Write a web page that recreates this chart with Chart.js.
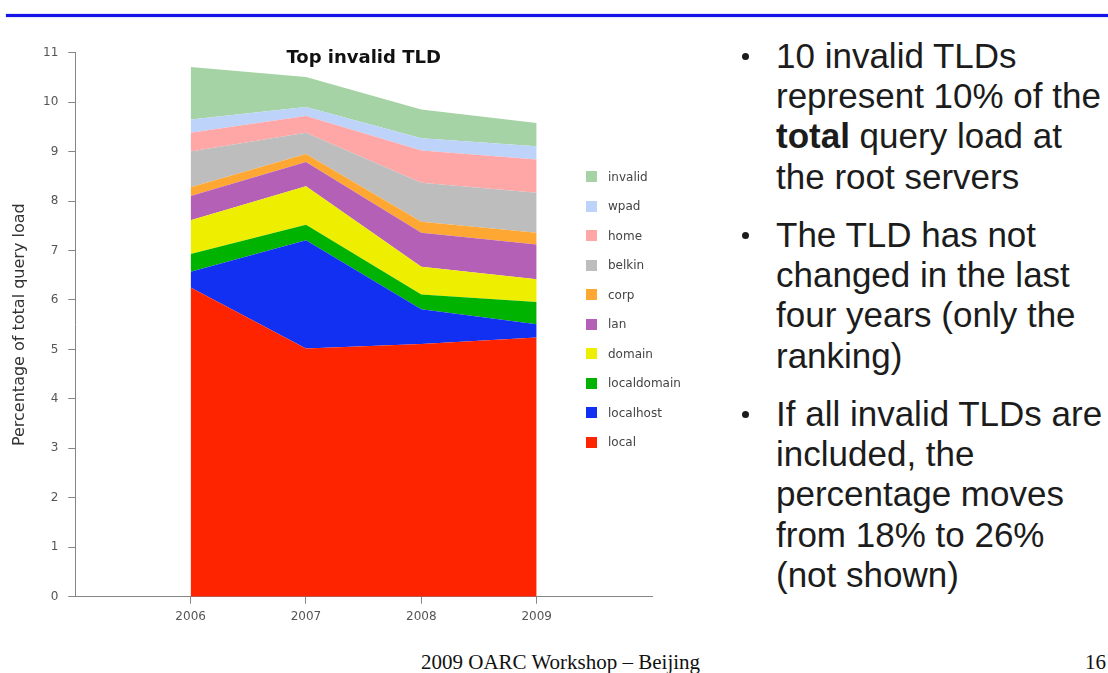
<!DOCTYPE html>
<html>
<head>
<meta charset="utf-8">
<title>Top invalid TLD</title>
<script src="https://cdn.jsdelivr.net/npm/chart.js@4.4.1/dist/chart.umd.min.js"></script>
<style>
  html,body{margin:0;padding:0;background:#fff;}
  body{width:1108px;height:673px;position:relative;overflow:hidden;}
  .rule{position:absolute;left:6px;right:0;top:14px;height:3px;background:#1414e6;box-shadow:0 0 1.5px #7a7aff;}
  #wrap{position:absolute;left:0;top:0;width:700px;height:640px;}
  #legend{position:absolute;left:586px;top:0;font:12px "DejaVu Sans",sans-serif;color:#444;}
  #legend .item{position:absolute;left:0;height:14px;line-height:14px;white-space:nowrap;}
  #legend .sw{position:absolute;left:0;top:1.5px;width:11px;height:11px;}
  #legend .lb{position:absolute;left:22px;top:0;}
  .bullet{position:absolute;left:776px;font:35px "Liberation Sans",Arial,sans-serif;line-height:40.3px;color:#1c1c1c;white-space:nowrap;}
  .dot{position:absolute;left:741.5px;width:7px;height:7px;border-radius:50%;background:#1c1c1c;}
  .foot{position:absolute;top:652px;font:21px "Liberation Serif","Times New Roman",serif;line-height:21px;color:#111;white-space:nowrap;}
</style>
</head>
<body>
<div class="rule"></div>
<div id="wrap"><canvas id="chartTld" width="700" height="640"></canvas></div>
<div id="legend"></div>

<div class="dot" style="top:52.5px"></div>
<div class="bullet" style="top:35.7px">10 invalid TLDs<br>represent 10% of the<br><b>total</b> query load at<br>the root servers</div>
<div class="dot" style="top:231.5px"></div>
<div class="bullet" style="top:214.7px">The TLD has not<br>changed in the last<br>four years (only the<br>ranking)</div>
<div class="dot" style="top:410.5px"></div>
<div class="bullet" style="top:393.7px">If all invalid TLDs are<br>included, the<br>percentage moves<br>from 18% to 26%<br>(not shown)</div>

<div class="foot" style="left:421px">2009 OARC Workshop – Beijing</div>
<div class="foot" style="right:2px">16</div>

<script>
const chartTitle = 'Top invalid TLD';
const yTitle = 'Percentage of total query load';
const years = [2006, 2007, 2008, 2009];
const xTicks = [2006, 2007, 2008, 2009];
const yTicks = [0, 1, 2, 3, 4, 5, 6, 7, 8, 9, 10, 11];

// stacked bottom -> top, % of total query load
const seriesNames = ['local', 'localhost', 'localdomain', 'domain', 'lan', 'corp', 'belkin', 'home', 'wpad', 'invalid'];
const local       = [6.25, 5.02, 5.11, 5.24];
const localhost   = [0.32, 2.19, 0.70, 0.27];
const localdomain = [0.36, 0.31, 0.30, 0.45];
const domain      = [0.68, 0.78, 0.56, 0.46];
const lan         = [0.49, 0.49, 0.69, 0.70];
const corp        = [0.18, 0.16, 0.22, 0.24];
const belkin      = [0.72, 0.43, 0.79, 0.81];
const home        = [0.38, 0.34, 0.65, 0.67];
const wpad        = [0.27, 0.18, 0.25, 0.27];
const invalid     = [1.06, 0.61, 0.58, 0.47];
const seriesValues = [local, localhost, localdomain, domain, lan, corp, belkin, home, wpad, invalid];
const seriesColors = ['#ff2400', '#1230f2', '#00b300', '#eeee00', '#b460b6', '#ffa733', '#bdbdbd', '#ffa6a6', '#bdd3fa', '#a6d3a5'];

const datasets = seriesNames.map((name, i) => ({
  label: name,
  data: years.map((yr, j) => ({ x: yr, y: seriesValues[i][j] })),
  backgroundColor: seriesColors[i],
  borderColor: 'rgba(0,0,0,0)',
  borderWidth: 0,
  pointRadius: 0,
  tension: 0,
  fill: i === 0 ? 'origin' : '-1'
}));

const titlePlugin = {
  id: 'innerTitle',
  afterDraw(chart){
    const { ctx, chartArea } = chart;
    ctx.save();
    ctx.font = 'bold 18px "DejaVu Sans", sans-serif';
    ctx.fillStyle = '#111';
    ctx.textAlign = 'center';
    ctx.textBaseline = 'alphabetic';
    ctx.fillText(chartTitle, (chartArea.left + chartArea.right) / 2, 62.7);
    ctx.restore();
  }
};

const axisColor = '#858585';
const tickFont = { family: 'DejaVu Sans', size: 12 };

new Chart(document.getElementById('chartTld'), {
  type: 'line',
  data: { datasets },
  plugins: [titlePlugin],
  options: {
    responsive: false,
    animation: false,
    layout: { padding: { top: 52.7, right: 48, bottom: 0, left: 0 } },
    plugins: { legend: { display: false }, tooltip: { enabled: false } },
    scales: {
      x: {
        type: 'linear',
        min: 2005, max: 2010,
        afterFit: s => { s.height = 43.3; },
        afterBuildTicks: s => { s.ticks = s.ticks.filter(t => xTicks.includes(t.value)); },
        ticks: { stepSize: 1, padding: 6, color: '#555', font: tickFont, callback: v => String(v), maxRotation: 0, autoSkip: false },
        grid: { drawOnChartArea: false, drawTicks: true, tickLength: 7, color: axisColor },
        border: { display: true, color: axisColor, width: 1 }
      },
      y: {
        stacked: true,
        min: 0, max: 11,
        afterFit: s => { s.width = 75.3; },
        afterBuildTicks: s => { s.ticks = yTicks.map(v => ({ value: v })); },
        ticks: { stepSize: 1, padding: 10, color: '#555', font: tickFont },
        grid: { drawOnChartArea: false, drawTicks: true, tickLength: 7, color: axisColor },
        border: { display: true, color: axisColor, width: 1 },
        title: { display: true, text: yTitle, color: '#333', font: { family: 'DejaVu Sans', size: 16 }, padding: { top: 10, bottom: 0 } }
      }
    }
  }
});

// legend, top series first
const legend = document.getElementById('legend');
seriesNames.slice().reverse().forEach((name, k) => {
  const idx = seriesNames.length - 1 - k;
  const cy = 176.5 + k * 29.5;
  const item = document.createElement('div');
  item.className = 'item';
  item.style.top = (cy - 7) + 'px';
  item.innerHTML = `<span class="sw" style="background:${seriesColors[idx]}"></span><span class="lb">${name}</span>`;
  legend.appendChild(item);
});
</script>
</body>
</html>
